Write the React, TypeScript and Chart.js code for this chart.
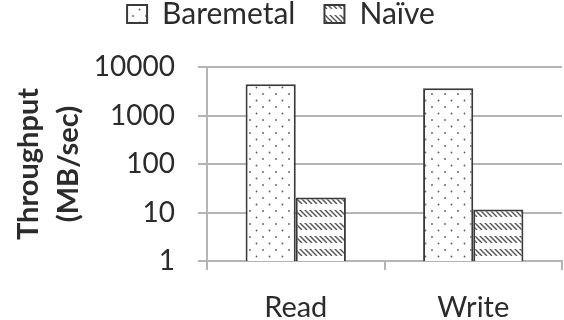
import { useEffect, useRef } from 'react';
import { Chart, registerables } from 'chart.js';

Chart.register(...registerables);

const categories = ['Read', 'Write'];
const seriesNames = ['Baremetal', 'Naïve'];
const baremetal = [4400, 3650];
const naive = [20.5, 11.5];
const yTicks = [1, 10, 100, 1000, 10000];
const yTitle = ['Throughput', '(MB/sec)'];

const FONT = 'Lato';
const TEXT = '#2b2b2b';
const GRID = '#b4b4b4';

function makeDots(): CanvasPattern | string {
  const c = document.createElement('canvas');
  c.width = 13;
  c.height = 13;
  const g = c.getContext('2d');
  if (!g) return '#fff';
  g.fillStyle = '#ffffff';
  g.fillRect(0, 0, 13, 13);
  g.fillStyle = '#5a5a5a';
  g.beginPath();
  g.arc(3, 3, 0.9, 0, Math.PI * 2);
  g.arc(9.5, 9.5, 0.9, 0, Math.PI * 2);
  g.fill();
  return g.createPattern(c, 'repeat') || '#fff';
}

function makeHatch(): CanvasPattern | string {
  const w = 5;
  const h = 13;
  const c = document.createElement('canvas');
  c.width = w;
  c.height = h;
  const g = c.getContext('2d');
  if (!g) return '#fff';
  g.fillStyle = '#ffffff';
  g.fillRect(0, 0, w, h);
  g.save();
  g.beginPath();
  g.rect(0, 2, w, 7);
  g.clip();
  g.strokeStyle = '#555555';
  g.lineWidth = 1.4;
  g.beginPath();
  for (let k = -2; k <= 2; k++) {
    g.moveTo(k * w - 1, 1);
    g.lineTo(k * w + 7, 9);
  }
  g.stroke();
  g.restore();
  return g.createPattern(c, 'repeat') || '#fff';
}

const LAYOUT_TOP = -30;
const PLOT_TOP = 67;

const legendGap = {
  id: 'legendGap',
  afterInit(chart: any) {
    const lg = chart.legend;
    if (!lg || lg.__patched) return;
    const fit = lg.fit;
    lg.fit = function (this: any) {
      fit.call(this);
      this.height = PLOT_TOP - LAYOUT_TOP;
    };
    lg.__patched = true;
  },
};

export default function App() {
  const ref = useRef<HTMLCanvasElement | null>(null);

  useEffect(() => {
    document.body.style.margin = '0';
    const canvas = ref.current;
    if (!canvas) return;
    const dots = makeDots();
    const hatch = makeHatch();
    const chart = new Chart(canvas, {
      type: 'bar',
      data: {
        labels: categories,
        datasets: [
          {
            label: seriesNames[0],
            data: baremetal,
            backgroundColor: dots as any,
            borderColor: '#3a3a3a',
            borderWidth: 2,
            categoryPercentage: 0.565,
            barPercentage: 1,
          },
          {
            label: seriesNames[1],
            data: naive,
            backgroundColor: hatch as any,
            borderColor: '#3a3a3a',
            borderWidth: 2,
            categoryPercentage: 0.565,
            barPercentage: 1,
          },
        ],
      },
      plugins: [legendGap],
      options: {
        responsive: false,
        animation: false,
        layout: { padding: { top: LAYOUT_TOP, left: 0, right: 2, bottom: 0 } },
        plugins: {
          tooltip: { enabled: false },
          legend: {
            position: 'top',
            labels: {
              boxWidth: 20,
              boxHeight: 18,
              padding: 29,
              color: TEXT,
              font: { family: FONT, size: 30 },
            },
          },
        },
        scales: {
          x: {
            type: 'category',
            afterFit(scale: any) {
              scale.height = 59;
            },
            border: { display: true, color: GRID, width: 2 },
            grid: {
              display: true,
              offset: true,
              drawOnChartArea: false,
              drawTicks: true,
              tickLength: 9,
              color: GRID,
              lineWidth: 2,
            },
            ticks: {
              color: TEXT,
              padding: 20,
              font: { family: FONT, size: 29 },
            },
          },
          y: {
            type: 'logarithmic',
            min: 1,
            max: 10000,
            afterFit(scale: any) {
              scale.width = 207;
            },
            afterBuildTicks(scale: any) {
              scale.ticks = yTicks.map((v) => ({ value: v }));
            },
            border: { display: true, color: GRID, width: 2 },
            grid: {
              color: GRID,
              lineWidth: 2,
              tickLength: 9,
            },
            ticks: {
              color: TEXT,
              padding: 23,
              font: { family: FONT, size: 28 },
              callback: (v: any) => String(v),
            },
            title: {
              display: true,
              text: yTitle,
              color: TEXT,
              padding: { top: 8, bottom: 0 },
              font: { family: FONT, size: 29, weight: 'bold', lineHeight: 1.4 },
            },
          },
        },
      },
    });
    return () => chart.destroy();
  }, []);

  return (
    <div style={{ width: 564, height: 320 }}>
      <canvas ref={ref} width={564} height={320} style={{ display: 'block' }} />
    </div>
  );
}
